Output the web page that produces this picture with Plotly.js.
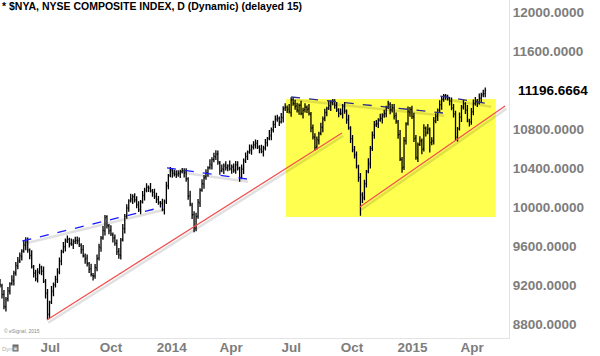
<!DOCTYPE html>
<html>
<head>
<meta charset="utf-8">
<script src="https://cdn.plot.ly/plotly-3.0.1.min.js"></script>
<style>html,body{margin:0;padding:0;background:#fff}#chart{width:600px;height:356px}</style>
</head>
<body>
<div id="chart"></div>
<script>
// ---- data (one bar per 3 calendar days) ----
const startDate = '2013-04-16';
const stepDays = 3;

const openP = [
9230,9191,9104,8975,9060,9137,9217,9239,9322,9394,
9451,9491,9549,9605,9650,9557,9507,9379,9322,9259,
9336,9376,9344,9235,9120,8897,9027,9129,9202,9254,
9336,9441,9544,9590,9660,9667,9627,9614,9647,9654,
9656,9606,9564,9495,9475,9417,9367,9299,9292,9374,
9476,9581,9684,9755,9900,9807,9762,9714,9682,9624,
9546,9501,9664,9775,9910,9987,10067,10074,10107,10069,
10026,9966,10054,10115,10180,10202,10197,10159,10152,10104,
10081,10041,10039,9970,10060,10217,10327,10374,10347,10334,
10336,10336,10364,10370,10360,10287,10117,10019,9922,9784,
9906,10041,10174,10235,10310,10347,10407,10429,10487,10514,
10546,10451,10374,10385,10430,10402,10427,10384,10412,10374,
10436,10391,10304,10385,10480,10517,10567,10579,10617,10634,
10656,10611,10594,10565,10610,10657,10707,10729,10792,10844,
10901,10906,10874,10915,11015,11022,11007,10969,11102,11059,
11036,10986,11044,10955,11000,11022,11007,10949,10812,10714,
10616,10681,10754,10815,10910,10967,11017,11029,11072,11089,
11046,10991,10964,10955,11040,10982,10897,10804,10702,10584,
10536,10411,10304,10125,10100,10237,10367,10439,10602,10734,
10846,10851,10894,10905,10945,10957,11027,11049,10997,11014,
10936,10871,10744,10485,10410,10677,10857,10969,11002,10924,
10706,10501,10644,10675,10600,10807,10767,10789,10662,10674,
10886,10921,10994,11045,11110,11142,11142,11104,11087,11014,
10956,10711,10804,10920,11030,11057,10997,10879,10872,10974,
11066,11086,11069,11115,11155,11162];

const highP = [
9262,9212,9149,9077,9178,9228,9300,9345,9435,9487,
9532,9566,9655,9690,9688,9575,9557,9404,9357,9372,
9417,9397,9389,9262,9158,9038,9190,9225,9295,9372,
9482,9561,9640,9677,9708,9685,9677,9670,9695,9696,
9688,9627,9609,9522,9513,9435,9417,9324,9415,9512,
9622,9701,9805,9917,9915,9825,9812,9739,9717,9666,
9578,9681,9825,9927,10028,10078,10135,10130,10142,10111,
10058,10071,10165,10197,10243,10220,10247,10184,10187,10146,
10113,10062,10084,10077,10258,10338,10410,10399,10382,10376,
10377,10381,10400,10397,10398,10305,10167,10044,9957,9942,
10082,10191,10285,10327,10388,10418,10490,10510,10555,10582,
10578,10472,10435,10447,10468,10438,10477,10435,10447,10472,
10468,10412,10435,10497,10558,10578,10640,10640,10675,10692,
10688,10632,10639,10627,10698,10718,10790,10815,10885,10937,
10947,10927,10965,11032,11063,11040,11057,11125,11120,11101,
11068,11061,11089,11017,11063,11040,11057,10974,10847,10756,
10722,10771,10865,10927,11008,11028,11090,11095,11108,11105,
11078,11012,11009,11057,11078,11000,10947,10829,10737,10626,
10568,10432,10349,10152,10278,10378,10500,10625,10775,10882,
10892,10911,10955,10962,10998,11038,11090,11074,11055,11056,
10968,10892,10789,10512,10718,10868,11030,11025,11037,10966,
10738,10661,10725,10702,10848,10825,10850,10814,10715,10922,
10962,11011,11095,11127,11160,11160,11150,11129,11122,11056,
10988,10821,10970,11047,11098,11075,11047,10904,11015,11102,
11127,11107,11165,11172,11203,11225];

const lowP = [
9174,9060,8950,8927,9030,9101,9195,9195,9294,9361,
9425,9451,9530,9557,9530,9464,9368,9276,9237,9226,
9310,9300,9221,9062,8850,8861,9005,9085,9174,9221,
9310,9401,9525,9542,9630,9584,9603,9570,9619,9617,
9589,9520,9481,9417,9390,9324,9288,9246,9264,9341,
9450,9541,9665,9707,9780,9719,9703,9636,9602,9507,
9470,9461,9645,9727,9880,9951,10045,10030,10047,9987,
9949,9926,10035,10067,10150,10154,10148,10106,10082,10042,
10024,9995,9956,9922,10030,10181,10305,10301,10312,10297,
10310,10296,10345,10302,10260,10074,10008,9876,9740,9751,
9880,10001,10155,10187,10280,10311,10385,10385,10459,10481,
10434,10330,10355,10337,10375,10366,10373,10340,10352,10341,
10374,10260,10285,10337,10450,10481,10545,10535,10589,10601,
10594,10550,10551,10517,10580,10621,10685,10685,10764,10811,
10875,10830,10855,10867,10985,10964,10958,10925,11037,10997,
10969,10946,10941,10907,10970,10964,10938,10766,10692,10577,
10590,10641,10735,10767,10880,10931,10995,10985,11044,11007,
10974,10920,10941,10907,10955,10854,10793,10656,10562,10497,
10394,10260,9910,10042,10070,10201,10345,10395,10574,10701,
10820,10811,10875,10857,10915,10921,11005,10951,10969,10897,
10854,10700,10471,10352,10380,10641,10835,10925,10902,10667,
10484,10461,10625,10542,10570,10724,10745,10560,10634,10641,
10860,10881,10975,10997,11080,11099,11093,11041,10992,10917,
10680,10671,10785,10872,11000,10954,10868,10826,10844,10941,
11040,11025,11050,11067,11125,11126];

const closeP = [
9200,9100,8980,9050,9140,9210,9250,9320,9400,9445,
9500,9545,9610,9640,9560,9500,9390,9320,9265,9330,
9385,9340,9240,9110,8900,9020,9140,9200,9260,9330,
9450,9540,9595,9650,9670,9620,9625,9645,9660,9650,
9615,9560,9500,9465,9420,9360,9310,9290,9380,9470,
9590,9680,9760,9890,9810,9755,9725,9680,9630,9540,
9510,9660,9780,9900,9990,10060,10085,10105,10075,10020,
9975,10050,10120,10170,10205,10190,10170,10150,10110,10075,
10050,10035,9975,10050,10220,10320,10385,10345,10340,10330,
10345,10360,10375,10350,10290,10110,10030,9920,9790,9900,
10050,10170,10240,10300,10350,10400,10440,10485,10520,10540,
10460,10370,10390,10420,10405,10420,10395,10410,10380,10430,
10400,10300,10390,10470,10520,10560,10590,10615,10640,10650,
10620,10590,10570,10600,10660,10700,10740,10790,10850,10895,
10915,10870,10920,11005,11025,11000,10980,11100,11065,11030,
10995,11040,10960,10990,11025,11000,10960,10810,10720,10610,
10690,10750,10820,10900,10970,11010,11040,11070,11095,11040,
11000,10960,10960,11030,10985,10890,10815,10700,10590,10530,
10420,10300,10130,10090,10240,10360,10450,10600,10740,10840,
10860,10890,10910,10935,10960,11020,11060,10995,11020,10930,
10880,10740,10490,10400,10680,10850,10980,11000,10930,10700,
10510,10640,10680,10590,10810,10760,10800,10660,10680,10880,
10930,10990,11050,11100,11145,11135,11115,11085,11020,10950,
10720,10800,10925,11020,11060,10990,10890,10870,10980,11060,
11095,11065,11120,11145,11165,11197];

const lastPrice = 11196.6664;
const yTickVals = [8800, 9200, 9600, 10000, 10400, 10800, 11600, 12000];
const xTickVals = ['2013-07-01','2013-10-01','2014-01-01','2014-04-01','2014-07-01','2014-10-01','2015-01-01','2015-04-01'];
const xTickText = ['Jul','Oct','2014','Apr','Jul','Oct','2015','Apr'];

// chartist's drawn trend lines: [date0, price0, date1, price1]
const blueLines = [
  ['2013-05-20', 9651, '2013-12-19', 10000],
  ['2013-12-25', 10400, '2014-04-25', 10287],
  ['2014-07-01', 11128, '2015-02-16', 10964],
  ['2015-02-12', 11138, '2015-04-28', 11056]
];
const redLines = [
  ['2013-06-26', 8841, '2014-09-16', 10759],
  ['2014-10-13', 10000, '2015-05-21', 11036]
];
const zoneBox = ['2014-06-23', 9897, '2015-05-07', 11108];

// ---- build ----
function addDays(s, n) {
  const d = new Date(s + 'T00:00:00Z');
  d.setUTCDate(d.getUTCDate() + n);
  return d.toISOString().slice(0, 10);
}
const dates = closeP.map((_, i) => addDays(startDate, i * stepDays));

const shapes = [];
shapes.push({type:'rect', xref:'x', yref:'y', layer:'below',
  x0: zoneBox[0], y0: zoneBox[1], x1: zoneBox[2], y1: zoneBox[3],
  fillcolor:'#ffff4f', line:{width:0}});
const allLines = blueLines.map((l, k) => ({l, color: k < 2 ? '#1a1aff' : '#2b2b8a', dash:'dash'}))
  .concat(redLines.map(l => ({l, color:'#f25050', dash:'solid'})));
// soft shadows
allLines.forEach(o => {
  shapes.push({type:'line', xref:'x', yref:'y', layer:'above',
    x0: addDays(o.l[0], 2), y0: o.l[1] - 28, x1: addDays(o.l[2], 2), y1: o.l[3] - 28,
    line:{color:'rgba(0,0,0,0.12)', width:2.5}});
});
allLines.forEach(o => {
  shapes.push({type:'line', xref:'x', yref:'y', layer:'above',
    x0: o.l[0], y0: o.l[1], x1: o.l[2], y1: o.l[3],
    line:{color:o.color, width:1.3, dash:o.dash}});
});

const trace = {
  type:'ohlc', x: dates, open: openP, high: highP, low: lowP, close: closeP,
  increasing:{line:{color:'#000', width:1.3}},
  decreasing:{line:{color:'#000', width:1.3}},
  tickwidth: 0.45, hoverinfo:'skip', showlegend:false
};

const grayFont = {family:'Liberation Sans, Arial, sans-serif', size:13.5, color:'#7d7d7d', weight:'bold'};

const layout = {
  width:600, height:356,
  margin:{l:0, r:91, t:0, b:18, pad:0},
  paper_bgcolor:'#fff', plot_bgcolor:'#fff',
  showlegend:false,
  xaxis:{type:'date', range:['2013-04-16','2015-05-27'], rangeslider:{visible:false},
    tickvals:xTickVals, ticktext:xTickText, tickfont:grayFont, ticklabelstandoff:-3,
    showgrid:false, zeroline:false, ticks:'', showline:true, linecolor:'#e3e3e3', linewidth:1,
    automargin:false, fixedrange:true},
  yaxis:{side:'right', range:[8656, 12123], tickvals:yTickVals, tickformat:'.4f',
    tickfont:grayFont, showgrid:false, zeroline:false, ticks:'', showline:true,
    linecolor:'#e3e3e3', linewidth:1, automargin:false, fixedrange:true},
  shapes: shapes,
  annotations:[
    {xref:'paper', yref:'paper', x:0, y:1, xanchor:'left', yanchor:'top', xshift:0, yshift:2,
     text:'* $NYA, NYSE COMPOSITE INDEX, D (Dynamic) (delayed 15)', showarrow:false,
     font:{family:'Liberation Sans, Arial, sans-serif', size:10.5, color:'#000', weight:'bold'}},
    {xref:'paper', yref:'y', x:1, y:lastPrice, xanchor:'left', yanchor:'middle', xshift:7,
     text:lastPrice.toFixed(4), showarrow:false,
     font:{family:'Liberation Sans, Arial, sans-serif', size:13.5, color:'#000', weight:'bold'}},
    {xref:'paper', yref:'paper', x:0, y:0, xanchor:'left', yanchor:'bottom', xshift:2, yshift:2,
     text:'© eSignal, 2015', showarrow:false,
     font:{family:'Liberation Sans, Arial, sans-serif', size:5, color:'#8a8a8a'}},
    {xref:'paper', yref:'paper', x:0, y:0, xanchor:'left', yanchor:'top', xshift:0, yshift:-6,
     text:'Dyn', showarrow:false,
     font:{family:'Liberation Sans, Arial, sans-serif', size:6, color:'#b0b0b0'}},
    {xref:'paper', yref:'paper', x:0, y:0, xanchor:'left', yanchor:'top', xshift:12, yshift:-6,
     text:'&#9635;', showarrow:false, bgcolor:'#666', borderpad:0,
     font:{family:'DejaVu Sans, sans-serif', size:5, color:'#ddd'}}
  ]
};

Plotly.newPlot('chart', [trace], layout, {staticPlot:true, displayModeBar:false});
</script>
</body>
</html>
